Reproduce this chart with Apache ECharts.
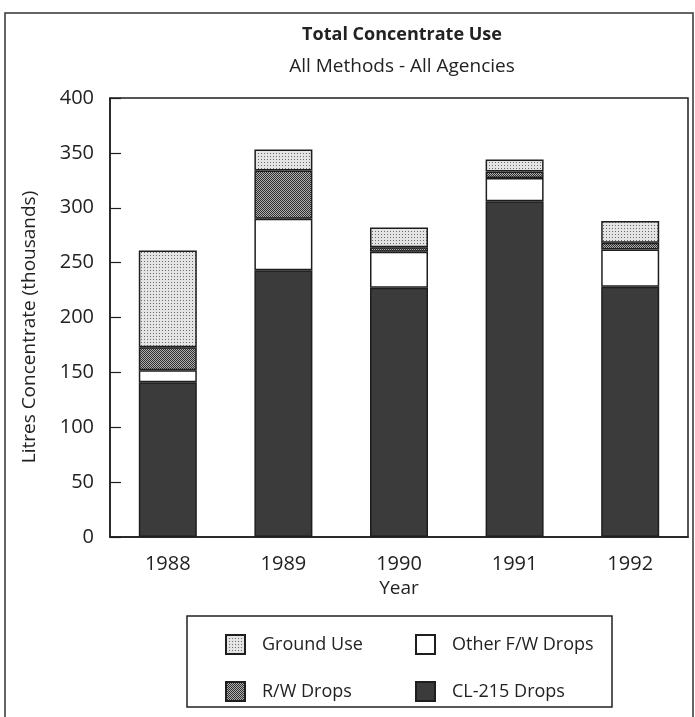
<!DOCTYPE html>
<html>
<head>
<meta charset="utf-8">
<script src="https://cdn.jsdelivr.net/npm/echarts@6/dist/echarts.min.js"></script>
<style>
  html, body { margin: 0; padding: 0; background: #fff; }
  #chart { width: 695px; height: 717px; }
</style>
</head>
<body>
<div id="chart"></div>
<script>
// chart data (thousands of litres)
var years = ['1988', '1989', '1990', '1991', '1992'];
var cl215Drops = [141, 243, 227, 306, 228];
var otherFWDrops = [11, 47, 33, 21, 34];
var rwDrops = [21, 44, 4, 6, 6];
var groundUse = [88, 19, 18, 11, 20];
var yTicks = [0, 50, 100, 150, 200, 250, 300, 350, 400];

// little canvases used as fill patterns (the scanned halftones)
function makePattern(size, bg, fg, dots) {
  var c = document.createElement('canvas');
  c.width = size; c.height = size;
  var ctx = c.getContext('2d');
  ctx.fillStyle = bg;
  ctx.fillRect(0, 0, size, size);
  ctx.fillStyle = fg;
  dots.forEach(function (d) { ctx.fillRect(d[0], d[1], 1, 1); });
  return { image: c, repeat: 'repeat' };
}
var groundFill = makePattern(3, '#e4e4e4', '#6a6a6a', [[0, 0]]);
var rwFill = makePattern(2, '#b0b0b0', '#2e2e2e', [[0, 0], [1, 1]]);

var font = '"Open Sans", Lato, sans-serif';
var txt = '#222';
var edge = { borderColor: '#1e1e1e', borderWidth: 1.5 };

var chart = echarts.init(document.getElementById('chart'));

var option = {
  backgroundColor: '#fff',
  animation: false,
  textStyle: { fontFamily: font, color: txt },
  title: {
    text: 'Total Concentrate Use',
    subtext: 'All Methods - All Agencies',
    left: 397, textAlign: 'center',
    top: 21,
    itemGap: 13,
    textStyle: { fontFamily: font, fontSize: 18, fontWeight: 'bold', color: txt },
    subtextStyle: { fontFamily: font, fontSize: 19, color: txt }
  },
  grid: {
    left: 110, right: 7, top: 98, bottom: 180,
    show: true, borderColor: '#1e1e1e', borderWidth: 1.5
  },
  legend: [{
    orient: 'vertical',
    left: 220, top: 629,
    itemWidth: 19, itemHeight: 19, itemGap: 26,
    icon: 'rect',
    data: ['Ground Use', 'R/W Drops'],
    textStyle: { fontFamily: font, fontSize: 18, color: txt, padding: [0, 0, 0, 12] }
  }, {
    orient: 'vertical',
    left: 410, top: 629,
    itemWidth: 19, itemHeight: 19, itemGap: 26,
    icon: 'rect',
    data: ['Other F/W Drops', 'CL-215 Drops'],
    textStyle: { fontFamily: font, fontSize: 18, color: txt, padding: [0, 0, 0, 12] }
  }],
  xAxis: {
    type: 'category',
    data: years,
    name: 'Year',
    nameLocation: 'middle',
    nameGap: 42,
    nameTextStyle: { fontFamily: font, fontSize: 19, color: txt },
    axisLine: { lineStyle: { color: '#1e1e1e', width: 1.5 } },
    axisTick: { show: false },
    axisLabel: { margin: 17, fontSize: 20, fontFamily: font, color: txt }
  },
  yAxis: {
    type: 'value',
    min: 0, max: 400, interval: 50,
    axisLine: { show: true, lineStyle: { color: '#1e1e1e', width: 1.5 } },
    axisTick: { show: true, inside: true, length: 11, lineStyle: { color: '#1e1e1e', width: 1.2 } },
    splitLine: { show: false },
    axisLabel: {
      margin: 16, fontSize: 20, fontFamily: font, color: txt,
      formatter: function (v) { return yTicks.indexOf(v) >= 0 ? String(v) : ''; }
    }
  },
  series: [
    { name: 'CL-215 Drops', type: 'bar', stack: 'use', barWidth: 58, data: cl215Drops,
      itemStyle: Object.assign({ color: '#3b3b3b' }, edge) },
    { name: 'Other F/W Drops', type: 'bar', stack: 'use', data: otherFWDrops,
      itemStyle: Object.assign({ color: '#ffffff' }, edge) },
    { name: 'R/W Drops', type: 'bar', stack: 'use', data: rwDrops,
      itemStyle: Object.assign({ color: rwFill }, edge) },
    { name: 'Ground Use', type: 'bar', stack: 'use', data: groundUse,
      itemStyle: Object.assign({ color: groundFill }, edge) }
  ],
  graphic: [
    { type: 'rect', silent: true, z: -1,
      shape: { x: 5, y: 13, width: 688, height: 720 },
      style: { fill: 'none', stroke: '#333', lineWidth: 1.5 } },
    { type: 'rect', silent: true,
      shape: { x: 187, y: 616, width: 425, height: 91 },
      style: { fill: 'none', stroke: '#222', lineWidth: 1.5 } },
    { type: 'text', silent: true,
      x: 30, y: 327, rotation: Math.PI / 2,
      style: { text: 'Litres Concentrate (thousands)', fontFamily: font, fontSize: 19,
               fill: txt, align: 'center', verticalAlign: 'middle' } }
  ]
};

chart.setOption(option);
</script>
</body>
</html>
